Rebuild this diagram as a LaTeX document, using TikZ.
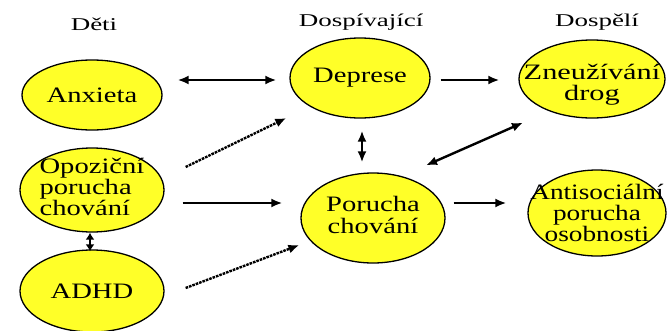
\documentclass[tikz,border=0pt]{standalone}
\usepackage{fontspec}
\setmainfont{Liberation Serif}
\usetikzlibrary{shapes.geometric,arrows.meta}
\definecolor{fillyel}{RGB}{255,255,40}
\newcommand{\wtxt}[2]{\scalebox{#1}[1]{#2}}
\begin{document}
\begin{tikzpicture}[x=1pt,y=-1pt,
  blob/.style={ellipse,draw=black,line width=1.3pt,fill=fillyel,inner sep=0pt},
  blobtext/.style={font=\fontsize{22}{20}\selectfont,align=center},
  ttl/.style={font=\fontsize{18}{20}\selectfont},
  arr/.style={line width=2.4pt,-{Latex[length=11pt,width=9pt]}},
  dbl/.style={line width=2.4pt,{Latex[length=11pt,width=9pt]}-{Latex[length=11pt,width=9pt]}},
  dots/.style={arr,dash pattern=on 2.6pt off 1pt}]
\useasboundingbox (0,0) rectangle (667,330);
\node[ttl] (t1) at (94,24) {\wtxt{1.5}{Děti}};
\node[ttl] (t2) at (361,22) {\wtxt{1.5}{Dospívající}};
\node[ttl] (t3) at (597,22) {\wtxt{1.5}{Dospělí}};
\node[blob,minimum width=140,minimum height=70] (anx) at (92,95) {};
\node[blobtext] at (anx) {\wtxt{1.3}{Anxieta}};
\node[blob,minimum width=140,minimum height=80] (dep) at (360,78) {};
\node[blobtext] at (dep) {\wtxt{1.3}{Deprese}};
\node[blob,minimum width=146,minimum height=78] (zne) at (592,79) {};
\node[blobtext] at ([yshift=-6pt]zne.center) {\wtxt{1.38}{\begin{tabular}{@{}c@{}}Zneužívání\\drog\end{tabular}}};
\node[blob,minimum width=144,minimum height=84] (opo) at (92,190) {};
\node[blobtext] at (opo) {\wtxt{1.3}{\begin{tabular}{@{}l@{}}Opoziční\\porucha\\chování\end{tabular}}};
\node[blob,minimum width=144,minimum height=82] (adhd) at (92,291) {};
\node[blobtext] at (adhd) {\wtxt{1.3}{ADHD}};
\node[blob,minimum width=144,minimum height=90] (por) at (373,218) {};
\node[blobtext] at (por) {\wtxt{1.3}{\begin{tabular}{@{}c@{}}Porucha\\chování\end{tabular}}};
\node[blob,minimum width=138,minimum height=86] (ant) at (597,213) {};
\node[blobtext] at ([yshift=-3pt]ant.center) {\wtxt{1.24}{\begin{tabular}{@{}c@{}}Antisociální\\porucha\\osobnosti\end{tabular}}};
\draw[dbl] ([shift={(15,-15)}]anx.east) -- ([shift={(-13,2)}]dep.west);
\draw[arr] ([shift={(10,2)}]dep.east) -- ([shift={(-19,1)}]zne.west);
\draw[dbl] ([shift={(2,12)}]dep.south) -- ([shift={(-11,-10)}]por.north);
\draw[dbl] ([shift={(-69,4)}]zne.south) -- ([shift={(53,-7)}]por.north);
\draw[dots] ([shift={(21,-23)}]opo.east) -- ([shift={(-3,40)}]dep.west);
\draw[arr] ([shift={(18,13)}]opo.east) -- ([shift={(-18,-15)}]por.west);
\draw[dots] ([shift={(21,-3)}]adhd.east) -- ([shift={(-1,27)}]por.west);
\draw[line width=2.4pt,{Latex[length=7pt,width=9pt]}-{Latex[length=7pt,width=9pt]}] ([shift={(-2,0)}]opo.south) -- ([shift={(-2,2)}]adhd.north);
\draw[arr] ([shift={(8,-15)}]por.east) -- ([shift={(-21,-10)}]ant.west);
\end{tikzpicture}
\end{document}
